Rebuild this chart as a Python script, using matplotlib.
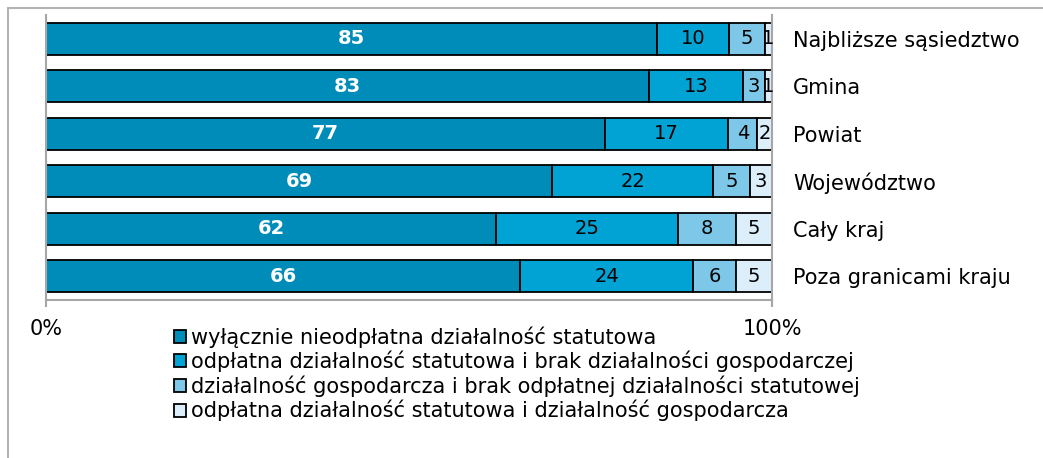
import matplotlib.pyplot as plt
import numpy as np
from matplotlib.patches import Rectangle

regiony = ['Najbliższe sąsiedztwo', 'Gmina', 'Powiat', 'Województwo',
           'Cały kraj', 'Poza granicami kraju']
nieodplatna = [85, 83, 77, 69, 62, 66]
odplatna = [10, 13, 17, 22, 25, 24]
gospodarcza = [5, 3, 4, 5, 8, 6]
obie = [1, 1, 2, 3, 5, 5]

serie = [nieodplatna, odplatna, gospodarcza, obie]
nazwy = ['wyłącznie nieodpłatna działalność statutowa',
         'odpłatna działalność statutowa i brak działalności gospodarczej',
         'działalność gospodarcza i brak odpłatnej działalności statutowej',
         'odpłatna działalność statutowa i działalność gospodarcza']
kolory = ['#008cb9', '#00a3d4', '#7dc8e8', '#dceefa']

W, H = 1043, 458
fig = plt.figure(figsize=(W / 100, H / 100), dpi=100)
ax = fig.add_axes([46 / W, 1 - 300 / H, (772 - 46) / W, (300 - 15) / H])

dane = np.array(serie, dtype=float)
suma = dane.sum(axis=0)
proc = dane / suma * 100
y = np.arange(len(regiony))
lewo = np.zeros(len(regiony))
for i in range(len(serie)):
    ax.barh(y, proc[i], left=lewo, height=0.67, color=kolory[i],
            edgecolor='black', linewidth=1.3, label=nazwy[i])
    for j in range(len(regiony)):
        xc = lewo[j] + proc[i][j] / 2
        if i == 0:
            ax.text(xc, y[j], str(serie[i][j]), ha='center', va='center',
                    color='white', fontsize=14, fontweight='bold')
        else:
            ax.text(xc, y[j], str(serie[i][j]), ha='center', va='center',
                    color='black', fontsize=14)
    lewo = lewo + proc[i]

ax.set_xlim(0, 100)
ax.set_ylim(len(regiony) - 0.5, -0.5)
ax.set_xticks([0, 100])
ax.set_xticklabels(['0%', '100%'], fontsize=15)
ax.tick_params(axis='x', direction='out', length=5, width=1.5,
               color='#a6a6a6', pad=9)
ax.yaxis.tick_right()
ax.set_yticks(y)
ax.set_yticklabels(regiony, fontsize=15)
ax.tick_params(axis='y', length=0, pad=15)
ax.spines['top'].set_visible(False)
for s in ['left', 'right', 'bottom']:
    ax.spines[s].set_color('#a6a6a6')
    ax.spines[s].set_linewidth(1.5)

fig.legend(loc='upper left', bbox_to_anchor=(174 / W, 1 - 326 / H),
           frameon=False, fontsize=15, handlelength=0.58, handleheight=0.58,
           handletextpad=0.25, labelspacing=0.15, borderpad=0, borderaxespad=0)

fig.patches.append(Rectangle((8 / W, -0.1), 2, 1.1 - 8 / H,
                             transform=fig.transFigure, fill=False,
                             edgecolor='#b3b3b3', linewidth=1.5))

fig.savefig('out.png', dpi=100)
